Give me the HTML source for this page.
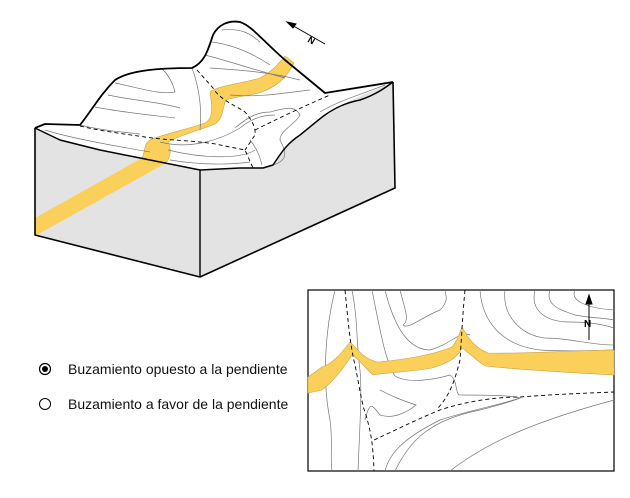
<!DOCTYPE html>
<html><head><meta charset="utf-8"><style>
html,body{margin:0;padding:0;background:#fff;width:630px;height:498px;overflow:hidden}
svg{display:block}
text{font-family:"Liberation Sans",Arial,sans-serif}
</style></head><body>
<svg width="630" height="498" viewBox="0 0 630 498" xmlns="http://www.w3.org/2000/svg">
<polygon points="35,128 60,140 100,150 150,160 200,170 200,277 35,235" fill="#e3e3e3"/>
<path d="M200,170 L240,168 L263,168 L273,165 L290,143 L305,130 L323,118 L347,102 L393,82 L395,188 L200,277 Z" fill="#e3e3e3"/>
<polygon points="35,218 142,158 166,163 35,236" fill="#fbd05a"/>
<path d="M142,158 C146,150 143,145 150,140 C160,135 185,130 205,123 C214,118 212,105 210,92 C220,85 240,84 260,78 C272,72 280,62 285,56 L294,63 C288,75 280,85 262,92 C250,96 238,96 226,100 C222,108 224,118 215,124 C200,130 178,136 168,142 C172,150 170,158 166,163 Z" fill="#fbd05a" stroke="#c9a24a" stroke-width="0.6"/>
<g fill="none" stroke="#777" stroke-width="0.7">
<path d="M45,130 C70,138 110,145 150,152"/>
<path d="M80,125 C100,130 120,132 140,134"/>
<path d="M95,107 C120,112 150,115 175,118"/>
<path d="M108,95 C130,100 160,102 180,108"/>
<path d="M115,83 C140,88 160,95 175,92 C172,80 165,70 160,68"/>
<path d="M192,68 C200,90 202,110 200,130"/>
<path d="M205,55 C225,60 255,70 285,78"/>
<path d="M212,42 C235,45 255,55 270,65"/>
<path d="M222,30 C240,28 250,33 260,42"/>
<path d="M210,68 C240,70 270,72 300,80"/>
<path d="M230,95 C260,98 290,92 310,90"/>
<path d="M168,150 C200,158 240,160 255,150"/>
<path d="M160,142 C190,150 220,140 240,128 C250,120 260,115 275,115"/>
<path d="M235,128 C250,115 260,112 270,112 C285,108 295,105 300,115 C295,125 280,130 280,140 C285,150 290,160 273,165"/>
<path d="M170,160 C200,165 230,165 250,162"/>
<path d="M320,112 C340,100 360,95 385,85"/>
<path d="M250,140 C258,150 260,158 262,165"/>
</g>
<g fill="none" stroke="#000" stroke-width="0.9" stroke-dasharray="4,3">
<path d="M80,126 C100,131 125,134 145,137 C170,141 200,140 225,146 L245,150 L253,168"/>
<path d="M197,70 L213,88 C220,100 235,105 245,112 C252,120 256,128 255,135 L245,150"/>
<path d="M255,130 C275,120 300,108 330,95"/>
</g>
<g fill="none" stroke="#000" stroke-linejoin="round">
<path d="M35,128 L45,124 L80,125 C92,110 100,95 115,80 C130,70 160,68 192,68 C205,62 208,50 213,35 C218,25 228,20 240,22 C252,26 262,40 285,60 L325,93 L393,82" stroke-width="1.8"/>
<path d="M35,128 L60,140 L100,150 L150,160 L200,170 L240,168 L263,168 L273,165 C280,155 285,145 300,135 C310,127 318,120 325,115 C335,108 345,103 360,100 C375,95 385,88 393,82" stroke-width="1.5"/>
<path d="M35,128 L35,235 L200,277 L395,188 L393,82" stroke-width="1.6"/>
<path d="M200,170 L200,277" stroke-width="1.4"/>
</g>
<g stroke="#000" stroke-width="1" fill="#000">
<line x1="290" y1="24" x2="325" y2="44"/>
<polygon points="287,22 296,24 293,28"/>
<text x="309" y="42" font-size="9" font-weight="bold" transform="rotate(30 309 38)" stroke="none">N</text>
</g>
<rect x="308" y="290" width="306" height="181" fill="#fff" stroke="#000" stroke-width="1.2"/>
<g fill="none" stroke="#777" stroke-width="0.7">
<path d="M335,290 C325,330 322,380 330,420 C333,440 330,460 332,471"/>
<path d="M352,290 C358,320 356,340 360,370 C362,395 360,420 358,471"/>
<path d="M372,290 C380,330 385,360 395,376 C410,385 440,378 450,375 C458,380 455,395 460,395 C480,395 510,395 520,398 C500,405 470,410 440,420 C410,435 390,450 385,471"/>
<path d="M400,290 C405,310 410,320 403,325 C408,330 420,318 440,310 C450,300 445,294 445,290"/>
<path d="M385,290 C395,330 410,350 430,350 C450,345 460,330 470,335"/>
<path d="M480,290 C482,320 500,345 540,350 C570,352 600,350 614,350"/>
<path d="M505,290 C502,315 520,335 545,338 C570,338 590,345 614,345"/>
<path d="M535,290 C530,310 545,322 570,322 C590,322 605,325 614,328"/>
<path d="M550,290 C545,305 560,310 575,315 C590,318 605,318 614,320"/>
<path d="M575,290 C570,300 585,308 614,310"/>
<path d="M365,420 C370,400 372,405 380,415 C395,420 410,410 416,405 C400,400 390,395 380,390"/>
<path d="M450,471 C490,440 540,420 614,400"/>
<path d="M395,471 C410,440 430,420 480,410 C500,405 515,400 520,398"/>
</g>
<path d="M308,377 L322,367 C332,364 340,355 350,342 C358,350 365,360 378,362 C400,360 430,356 452,347 C458,340 460,332 462,327 C468,338 475,348 488,353 C520,354 560,351 614,350 L614,375 C580,373 520,370 485,366 C476,360 468,352 462,348 C458,356 452,362 432,368 C410,372 390,372 373,375 C365,368 360,360 352,355 C345,366 335,380 322,390 L308,393 Z" fill="#fbd05a" stroke="#c9a24a" stroke-width="0.6"/>
<g fill="none" stroke="#000" stroke-width="0.9" stroke-dasharray="4,3">
<path d="M345,290 C348,320 350,345 355,365 C360,390 362,405 366,415 C370,430 373,440 374,471"/>
<path d="M374,440 C400,428 420,418 440,410 C470,400 500,397 520,397 C560,394 590,393 614,392"/>
<path d="M465,290 C463,310 462,330 460,360 C455,380 450,395 438,408"/>
</g>
<g stroke="#000" fill="#000">
<line x1="589" y1="302" x2="589" y2="340" stroke-width="1"/>
<polygon points="589,295 586,304 592,304"/>
<text x="584" y="327" font-size="10" font-weight="bold" stroke="none" fill="#000">N</text>
</g>
<circle cx="45" cy="369" r="5.5" fill="#fff" stroke="#000" stroke-width="1.2"/>
<circle cx="45" cy="369" r="3" fill="#000"/>
<circle cx="45" cy="404" r="5.5" fill="#fff" stroke="#000" stroke-width="1"/>
<text x="68" y="374" font-size="14" fill="#111">Buzamiento opuesto a la pendiente</text>
<text x="68" y="409" font-size="14" fill="#111">Buzamiento a favor de la pendiente</text>
</svg>
</body></html>
